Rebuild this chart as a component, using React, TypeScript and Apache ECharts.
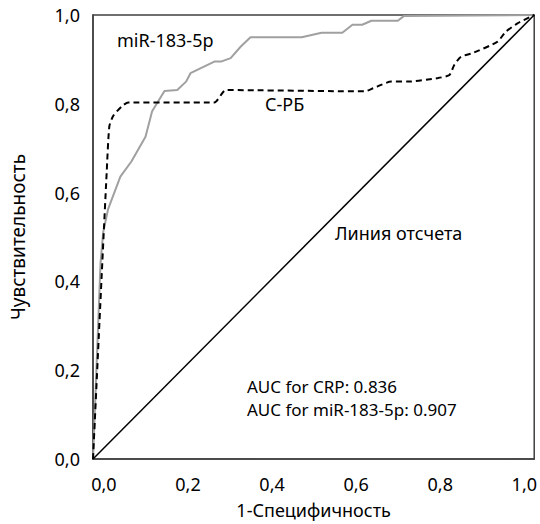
import React, { useEffect, useRef } from "react";
import * as echarts from "echarts";

// 1-Specificity / Sensitivity for miR-183-5p (grey solid)
const mirFpr = [0, 0.017, 0.023, 0.034, 0.062, 0.087, 0.119, 0.134, 0.162, 0.191, 0.211, 0.221, 0.275, 0.29, 0.312, 0.335, 0.357, 0.473, 0.518, 0.565, 0.588, 0.61, 0.631, 0.691, 0.705, 1];
const mirTpr = [0, 0.44, 0.51, 0.562, 0.636, 0.67, 0.726, 0.783, 0.829, 0.831, 0.85, 0.869, 0.895, 0.895, 0.903, 0.929, 0.95, 0.95, 0.96, 0.96, 0.978, 0.978, 0.987, 0.987, 0.998, 1];

// 1-Specificity / Sensitivity for CRP (black dashed)
const crpFpr = [0, 0.02, 0.031, 0.037, 0.046, 0.065, 0.08, 0.275, 0.301, 0.616, 0.635, 0.676, 0.714, 0.782, 0.808, 0.819, 0.834, 0.86, 0.917, 0.935, 0.962, 0.991, 1];
const crpTpr = [0, 0.42, 0.645, 0.749, 0.773, 0.794, 0.803, 0.803, 0.831, 0.828, 0.835, 0.85, 0.85, 0.858, 0.865, 0.888, 0.906, 0.914, 0.94, 0.962, 0.981, 0.996, 1];

// Reference line
const refFpr = [0, 1];
const refTpr = [0, 1];

const tickValues = [0, 0.2, 0.4, 0.6, 0.8, 1.0];

const xName = "1-Специфичность";
const yName = "Чувствительность";
const mirLabel = "miR-183-5p";
const crpLabel = "С-РБ";
const refLabel = "Линия отсчета";
const aucLines = ["AUC for CRP: 0.836", "AUC for miR-183-5p: 0.907"];

const FONT = "'Noto Sans', sans-serif";
const fmt = (v: number) => v.toFixed(1).replace(".", ",");
const zip = (a: number[], b: number[]) => a.map((x, i) => [x, b[i]]);

export default function App() {
  const ref = useRef<HTMLDivElement>(null);
  useEffect(() => {
    if (!ref.current) return;
    const chart = echarts.init(ref.current, null, { renderer: "svg" });
    const axisColor = "#404040";
    chart.setOption({
      animation: false,
      backgroundColor: "#ffffff",
      textStyle: { fontFamily: FONT },
      grid: { left: 93, top: 15, right: 3, bottom: 64, show: true, borderColor: axisColor, borderWidth: 1.5 },
      xAxis: [
        {
          type: "value",
          min: 0,
          max: 1,
          axisLine: { show: true, lineStyle: { color: axisColor, width: 1.5 } },
          axisTick: { show: false },
          axisLabel: { show: false },
          splitLine: { show: false },
        },
        {
          type: "value",
          position: "bottom",
          min: -0.026,
          max: 1.0236,
          axisLine: { show: false },
          axisTick: { show: false },
          splitLine: { show: false },
          axisLabel: {
            customValues: tickValues,
            formatter: (v: number) => fmt(v),
            color: "#000",
            fontSize: 18,
            fontFamily: FONT,
            margin: 16,
          },
          name: xName,
          nameLocation: "middle",
          nameGap: 42,
          nameTextStyle: { color: "#000", fontSize: 18, fontFamily: FONT },
        },
      ],
      yAxis: {
        type: "value",
        min: 0,
        max: 1,
        interval: 0.2,
        axisLine: { show: true, lineStyle: { color: axisColor, width: 1.5 } },
        axisTick: { show: false },
        splitLine: { show: false },
        axisLabel: { formatter: (v: number) => fmt(v), color: "#000", fontSize: 18, fontFamily: FONT, margin: 13 },
        name: yName,
        nameLocation: "middle",
        nameGap: 66,
        nameTextStyle: { color: "#000", fontSize: 19, fontFamily: FONT },
      },
      series: [
        {
          type: "line",
          xAxisIndex: 0,
          data: zip(mirFpr, mirTpr),
          showSymbol: false,
          lineStyle: { color: "#a0a0a0", width: 2 },
        },
        {
          type: "line",
          xAxisIndex: 0,
          data: zip(crpFpr, crpTpr),
          showSymbol: false,
          smooth: 0.2,
          lineStyle: { color: "#000", width: 2, type: [6, 4] },
        },
        {
          type: "line",
          xAxisIndex: 0,
          data: zip(refFpr, refTpr),
          showSymbol: false,
          lineStyle: { color: "#000", width: 1.5 },
        },
      ],
      graphic: [
        { type: "text", left: 117, top: 31, style: { text: mirLabel, fill: "#000", font: `18px ${FONT}` } },
        { type: "text", left: 265, top: 95, style: { text: crpLabel, fill: "#000", font: `18px ${FONT}` } },
        { type: "text", left: 335, top: 224, style: { text: refLabel, fill: "#000", font: `18px ${FONT}` } },
        {
          type: "text",
          left: 247,
          top: 375,
          style: { text: aucLines.join("\n"), fill: "#000", font: `17px ${FONT}`, lineHeight: 23 },
        },
      ],
    });
    return () => chart.dispose();
  }, []);
  return <div ref={ref} style={{ width: 540, height: 524, position: "absolute", left: 0, top: 0 }} />;
}
